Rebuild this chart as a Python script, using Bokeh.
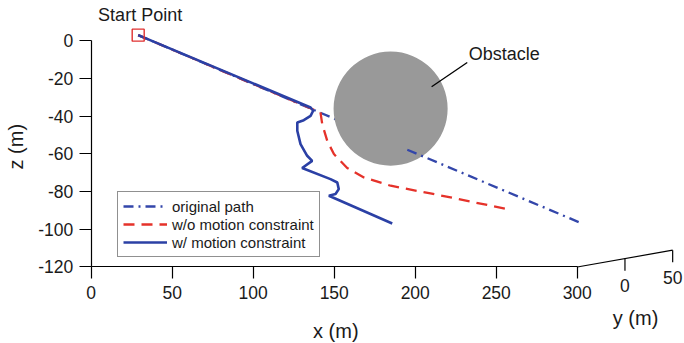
from bokeh.plotting import figure
from bokeh.models import FixedTicker, Legend, LegendItem
from bokeh.core.properties import value
from bokeh.embed import file_html
from bokeh.resources import INLINE

# ---------------- data ----------------
START_X = [29]
START_Z = [3]

ORIG_X = [29, 195.1, 303.7]            # original path (straight), break where it passes the obstacle
ORIG_Z = [3, -57.8, -97.2]

WO_X = [29, 136.4, 141.5, 142.6, 145.7, 149.8, 158.0, 168.3, 184.8, 209.4, 221.8, 256.8]
WO_Z = [3, -36.2, -38.0, -44.2, -53.1, -60.1, -67.5, -72.5, -76.9, -81.0, -83.1, -89.3]

W_X = [29, 135.4, 137.0, 135.4, 131.2, 127.2, 127.2, 129.2, 133.3, 136.4, 130.2,
       147.7, 151.9, 152.8, 150.8, 146.7, 185.8]
W_Z = [3, -35.4, -37.1, -39.8, -42.1, -43.3, -47.7, -54.8, -61.0, -63.7, -67.5,
       -73.4, -75.2, -78.7, -81.3, -82.2, -96.9]

OBST_X = [184.8]
OBST_Z = [-36.0]
OBST_R = 35.2

X_TICKS = [0, 50, 100, 150, 200, 250, 300]
Z_TICKS = [0, -20, -40, -60, -80, -100, -120]
Y_TICKS = [0, 50]
Y_LIMITS = [-50, 50]

LEGEND_LABELS = ["original path", "w/o motion constraint", "w/ motion constraint"]

# ---------------- style ----------------
FONT = "Liberation Sans"
BLUE = "#2b40a5"
BLUE2 = "#3346aa"
RED = "#e5322a"
GRAY = "#999999"
TXT = "#1a1a1a"

# oblique projection of the y axis onto the (x, z) page
YX_PER = 0.589
YZ_PER = 0.0891
TICK_Z = 6.4
LABEL_Z = 14.3

p = figure(width=684, height=343, x_range=(-55.99, 366.2), y_range=(-160.6, 21.38),
           output_backend="svg", toolbar_location=None, min_border=0)
p.outline_line_color = None
p.grid.visible = False
p.background_fill_color = "white"
p.border_fill_color = "white"

# axes
xa = p.xaxis[0]
xa.fixed_location = Z_TICKS[-1]
xa.bounds = (X_TICKS[0], X_TICKS[-1])
xa.ticker = FixedTicker(ticks=X_TICKS)
xa.major_label_overrides = {t: str(t) for t in X_TICKS}
za = p.yaxis[0]
za.fixed_location = X_TICKS[0]
za.bounds = (Z_TICKS[-1], Z_TICKS[0])
za.ticker = FixedTicker(ticks=Z_TICKS)
za.major_label_overrides = {t: str(t) for t in Z_TICKS}
for ax in (xa, za):
    ax.axis_line_color = "black"
    ax.axis_line_width = 1.2
    ax.major_tick_line_color = "black"
    ax.major_tick_line_width = 1.2
    ax.major_tick_in = 0
    ax.major_tick_out = 12
    ax.minor_tick_line_color = None
    ax.major_label_text_font = FONT
    ax.major_label_text_font_size = "17.5px"
    ax.major_label_text_color = TXT
xa.major_label_standoff = 7
za.major_label_standoff = 6

# original path: part behind the obstacle
r_orig = p.line(ORIG_X[:2], ORIG_Z[:2], line_color=BLUE2, line_width=2.3, line_dash="10 5 2 5")
# obstacle
p.circle(OBST_X, OBST_Z, radius=OBST_R, fill_color=GRAY, line_color=None)
# original path: part in front of the obstacle
p.line(ORIG_X[1:], ORIG_Z[1:], line_color=BLUE2, line_width=2.3, line_dash="10 5 2 5")
# w/o motion constraint
r_wo = p.line(WO_X, WO_Z, line_color=RED, line_width=2.3, line_dash="11 7")
# w/ motion constraint
r_w = p.line(W_X, W_Z, line_color=BLUE, line_width=2.6)
# start point
p.scatter(START_X, START_Z, marker="square", size=12, fill_color=None,
          line_color="#e03030", line_width=1.4)

# y axis drawn in oblique projection
def proj(yv):
    return (X_TICKS[-1] + YX_PER * (yv - Y_LIMITS[0]),
            Z_TICKS[-1] + YZ_PER * (yv - Y_LIMITS[0]))

ya0 = proj(Y_LIMITS[0])
ya1 = proj(Y_LIMITS[1])
p.segment(x0=[ya0[0]], y0=[ya0[1]], x1=[ya1[0]], y1=[ya1[1]], line_color="black", line_width=1.2)
tx = [proj(t)[0] for t in Y_TICKS]
tz = [proj(t)[1] for t in Y_TICKS]
p.segment(x0=tx, y0=tz, x1=tx, y1=[z - TICK_Z for z in tz], line_color="black", line_width=1.2)
p.text(x=tx, y=[z - LABEL_Z for z in tz], text=[str(t) for t in Y_TICKS],
       text_font=value(FONT), text_font_size=value("17.5px"), text_color=TXT,
       text_align="center", text_baseline="middle")

# axis titles
p.text(x=[152.7], y=[-153.8], text=["x  (m)"], text_font=value(FONT), text_font_size=value("20px"),
       text_color=TXT, text_align="center", text_baseline="middle")
p.text(x=[336.0], y=[-147.3], text=["y (m)"], text_font=value(FONT), text_font_size=value("20px"),
       text_color=TXT, text_align="center", text_baseline="middle")
p.text(x=[-46.7], y=[-56.2], text=["z (m)"], text_font=value(FONT), text_font_size=value("20px"),
       text_color=TXT, text_align="center", text_baseline="middle", angle=1.5708)

# annotations
p.text(x=[30.2], y=[13.6], text=["Start Point"], text_font=value(FONT), text_font_size=value("18px"),
       text_color=TXT, text_align="center", text_baseline="middle")
p.text(x=[255.0], y=[-6.9], text=["Obstacle"], text_font=value(FONT), text_font_size=value("18px"),
       text_color=TXT, text_align="center", text_baseline="middle")
p.segment(x0=[232.1], y0=[-11.5], x1=[210.1], y1=[-24.4], line_color="black", line_width=1.3)

legend = Legend(items=[LegendItem(label=LEGEND_LABELS[0], renderers=[r_orig]),
                       LegendItem(label=LEGEND_LABELS[1], renderers=[r_wo]),
                       LegendItem(label=LEGEND_LABELS[2], renderers=[r_w])],
                location=(117, 86), orientation="vertical")
legend.label_text_font = FONT
legend.label_text_font_size = "15px"
legend.label_text_color = TXT
legend.label_height = 18
legend.glyph_height = 18
legend.glyph_width = 44
legend.label_standoff = 5
legend.spacing = 0
legend.padding = 5
legend.margin = 0
legend.border_line_color = "#222222"
legend.border_line_width = 1.2
legend.background_fill_color = "white"
legend.background_fill_alpha = 1.0
p.add_layout(legend)

open("out.html", "w").write(file_html(p, INLINE))
